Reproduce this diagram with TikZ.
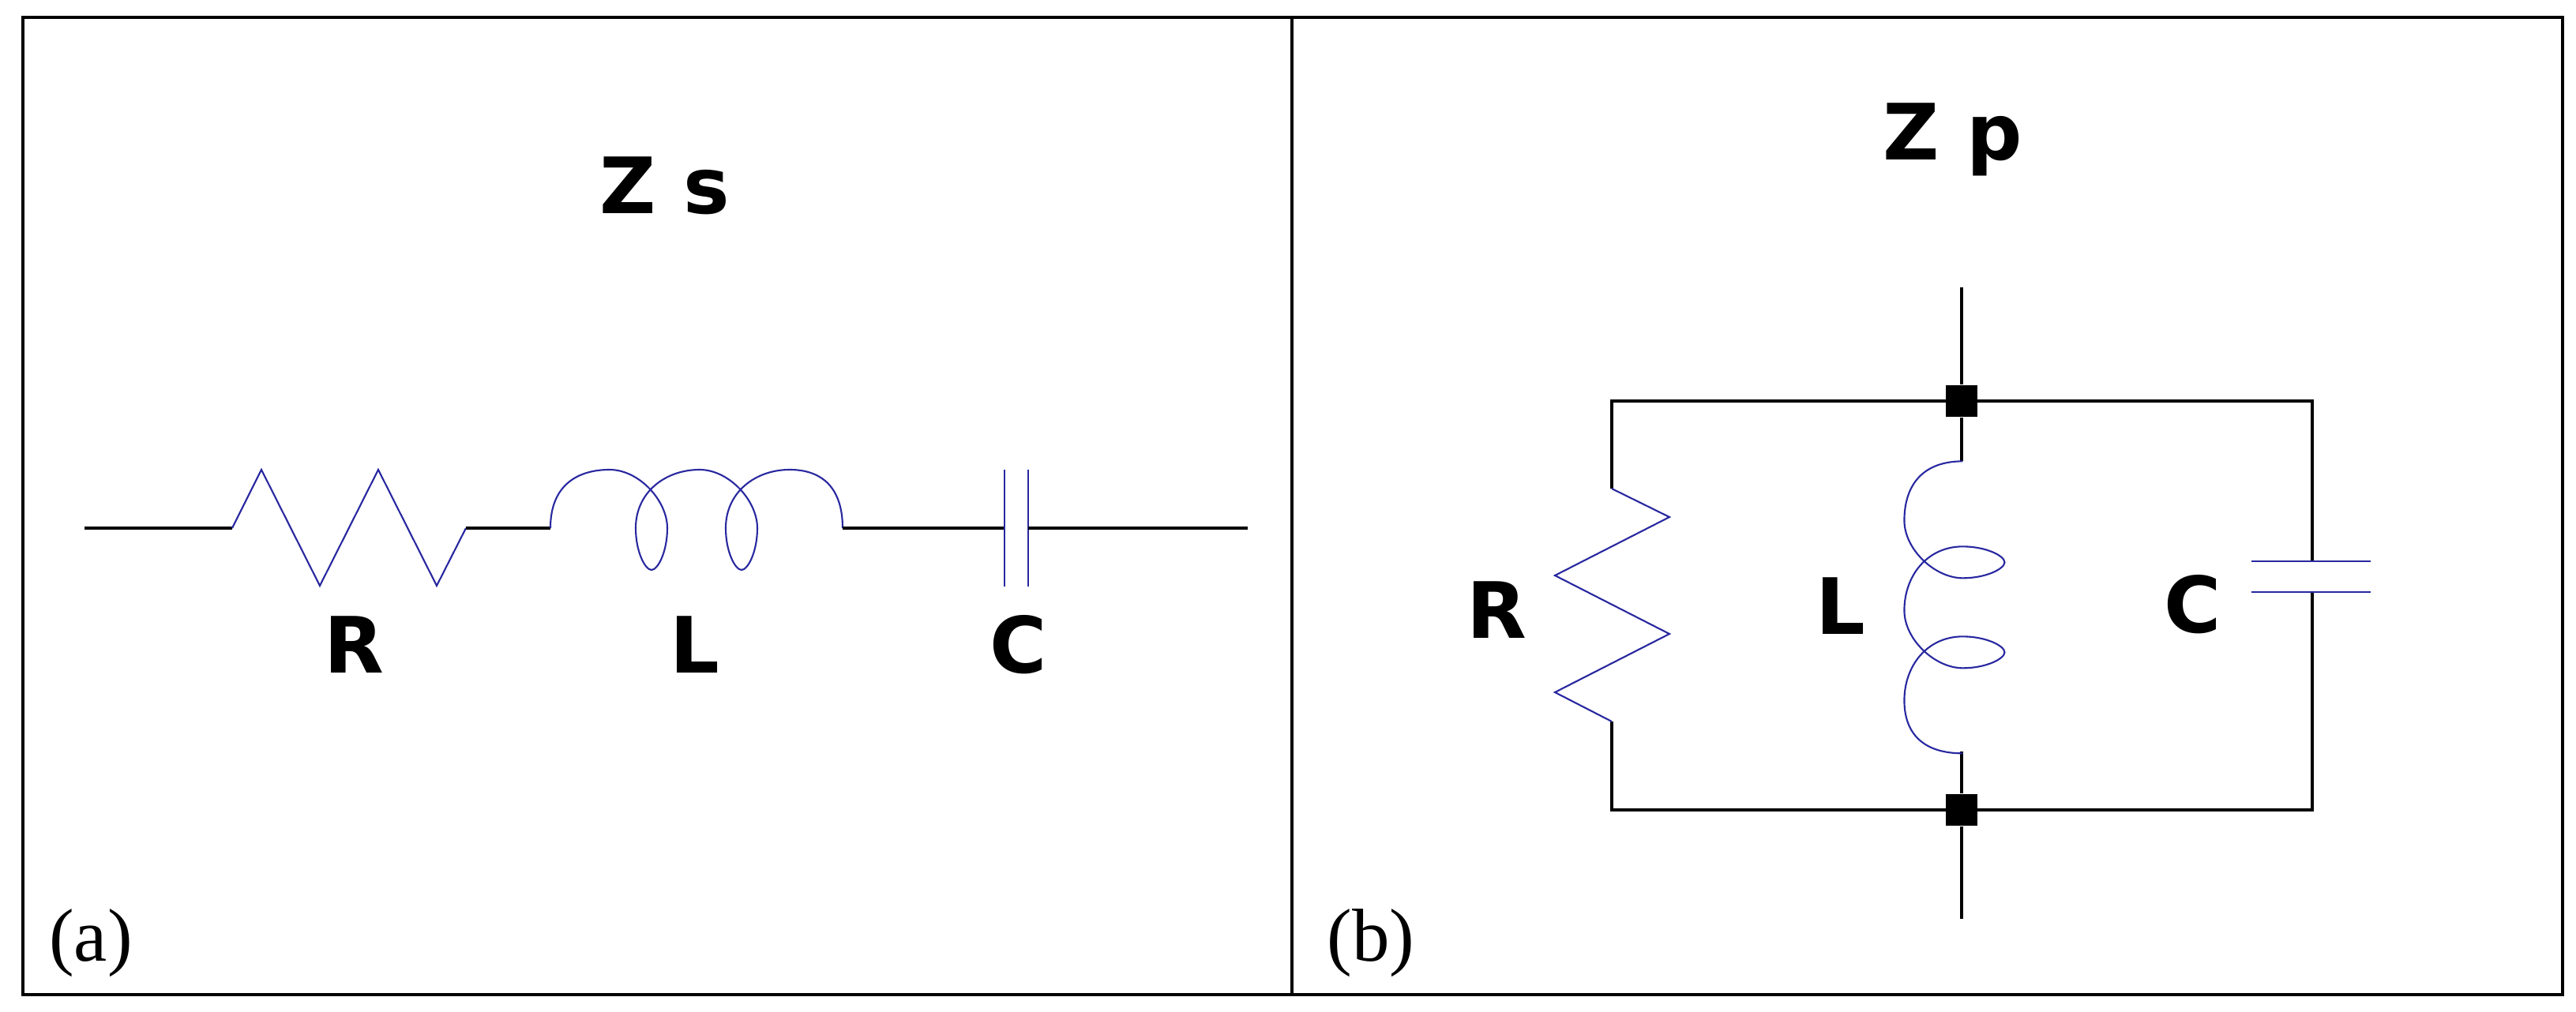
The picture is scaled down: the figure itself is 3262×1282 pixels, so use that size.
\documentclass[tikz,border=0pt]{standalone}
\usepackage{fontspec}
\setmainfont{Liberation Serif}
\newfontfamily\lblfont{DejaVu Sans}
\usetikzlibrary{calc}

% inductor coil in local units (along, across)
\newcommand{\coilpath}{
    (0,0) .. controls (0,55) and (35,74) .. (75,74)
          .. controls (112,74) and (148,35) .. (148,0)
          .. controls (148,-30) and (136,-53) .. (128,-53)
          .. controls (120,-53) and (108,-30) .. (108,0)
          .. controls (108,45) and (145,74) .. (189,74)
          .. controls (226,74) and (262,35) .. (262,0)
          .. controls (262,-30) and (250,-53) .. (242,-53)
          .. controls (234,-53) and (222,-30) .. (222,0)
          .. controls (222,45) and (259,74) .. (303,74)
          .. controls (345,74) and (370,50) .. (370,0)
}

\begin{document}
\begin{tikzpicture}[x=0.01cm, y=0.01cm,
    wire/.style={black, line width=1pt},
    part/.style={draw=compblue, line width=0.6pt},
    lbl/.style={font=\lblfont\bfseries\fontsize{28}{30}\selectfont},
    tag/.style={font=\fontsize{27}{30}\selectfont},
    junction/.style={fill=black, minimum size=0.4cm, inner sep=0pt}
]
    \definecolor{compblue}{RGB}{40,40,160}
    \useasboundingbox (0,0) rectangle (3262,-1282);
    \draw[line width=1.1pt] (29,-22) rectangle (3245,-1260);
    \draw[line width=0.9pt] (1636,-22) -- (1636,-1260);

    % (a) series
    \node[lbl] (zs) at (842,-235) {Z s};
    \coordinate (sa) at (107,-669);
    \coordinate (ra) at (294,-669);
    \coordinate (rb) at (590,-669);
    \coordinate (la) at (697,-669);
    \coordinate (lb) at (1067,-669);
    \coordinate (ca) at (1272,-669);
    \coordinate (cb) at (1302,-669);
    \coordinate (sb) at (1580,-669);
    \draw[wire] (sa) -- (ra);
    \draw[part] (ra) -- (331,-595) -- (405,-742) -- (479,-595) -- (553,-742) -- (rb);
    \draw[wire] (rb) -- (la);
    \draw[part, shift={(la)}] \coilpath;
    \draw[wire] (lb) -- (ca);
    \draw[part] (ca) -- ++(0,74) -- ++(0,-148);
    \draw[part] (cb) -- ++(0,74) -- ++(0,-148);
    \draw[wire] (cb) -- (sb);
    \node[lbl] (rs) at (448,-817) {R};
    \node[lbl] (ls) at (880,-817) {L};
    \node[lbl] (cs) at (1290,-817) {C};
    \node[tag] (ta) at (115,-1195) {(a)};

    % (b) parallel
    \node[lbl] (zp) at (2473,-177) {Z p};
    \node[junction] (top) at (2484,-508) {};
    \node[junction] (bot) at (2484,-1026) {};
    \coordinate (tin) at (2484,-364);
    \coordinate (bout) at (2484,-1164);
    \coordinate (tl) at (2041,-508);
    \coordinate (tr) at (2928,-508);
    \coordinate (bl) at (2041,-1026);
    \coordinate (br) at (2928,-1026);
    \coordinate (pra) at (2041,-619);
    \coordinate (prb) at (2041,-914);
    \coordinate (pla) at (2484,-584);
    \coordinate (plb) at (2484,-952);
    \coordinate (pca) at (2928,-711);
    \coordinate (pcb) at (2928,-750);
    \draw[wire] (tin) -- (top);
    \draw[wire] (bot) -- (bout);
    \draw[wire] (pra) -- (tl) -- (tr) -- (pca);
    \draw[wire] (prb) -- (bl) -- (br) -- (pcb);
    \draw[wire] (top) -- (pla);
    \draw[wire] (bot) -- (plb);
    \draw[part] (pra) -- (2114,-655) -- (1969,-729) -- (2114,-803) -- (1969,-877) -- (prb);
    \draw[part, cm={0,-1,-1,0,(24.84cm,-5.84cm)}] \coilpath;
    \draw[part] (2851,-711) -- (3002,-711);
    \draw[part] (2851,-750) -- (3002,-750);
    \node[lbl] (rp) at (1895,-773) {R};
    \node[lbl] (lp) at (2331,-768) {L};
    \node[lbl] (cp) at (2777,-766) {C};
    \node[tag] (tb) at (1736,-1195) {(b)};
\end{tikzpicture}
\end{document}
